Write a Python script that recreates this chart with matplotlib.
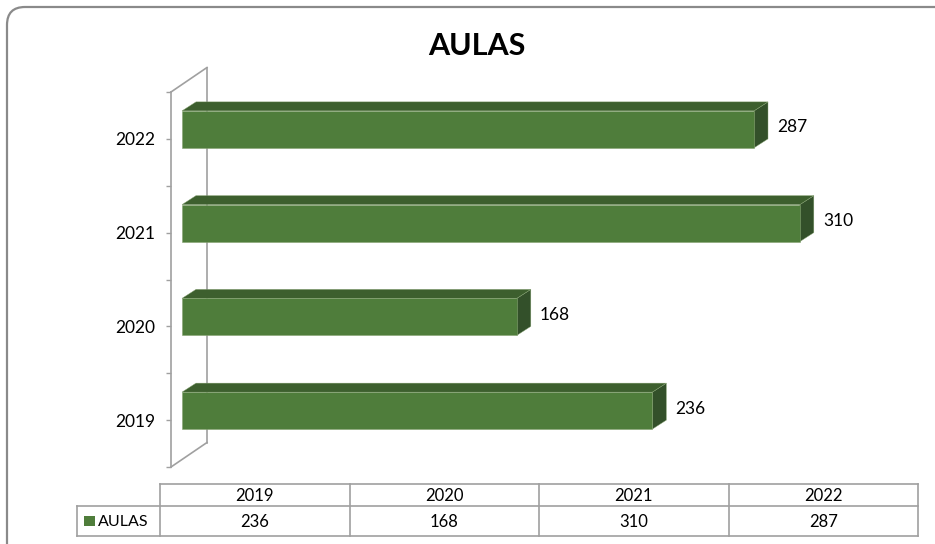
import matplotlib
matplotlib.use("Agg")
import matplotlib.pyplot as plt
from matplotlib.patches import Polygon, FancyBboxPatch, Rectangle
from matplotlib.lines import Line2D

# ---------------- data ----------------
title = "AULAS"
series_name = "AULAS"
categories = ["2019", "2020", "2021", "2022"]
values = [236, 168, 310, 287]

# ---------------- style ----------------
W, H = 935, 544
FONT = ["Lato", "DejaVu Sans"]
plt.rcParams["font.family"] = FONT
FRONT = "#4f7d3b"
TOP = "#3d5f2e"
SIDE = "#33502a"
EDGE = "#86a372"
GRID = "#a0a0a0"
TXT = "#000000"
LBL = 12.5

fig = plt.figure(figsize=(W / 100, H / 100), dpi=100)

# pixel geometry of plot area
px_left, px_right = 171, 900
px_top, px_bottom = 92, 467
px_zero = 182
px_per_unit = 1.993
ax = fig.add_axes([px_left / W, 1 - px_bottom / H,
                   (px_right - px_left) / W, (px_bottom - px_top) / H])
ax.set_xlim((px_left - px_zero) / px_per_unit, (px_right - px_zero) / px_per_unit)
ax.set_ylim(-0.5, len(categories) - 0.5)
px_per_cat = (px_bottom - px_top) / len(categories)

def dx(p):
    return p / px_per_unit

def dy(p):
    return p / px_per_cat

depth_x, depth_y = dx(14), dy(9)
wall_x, wall_y = dx(36), dy(24.5)

for s in ["top", "right", "bottom"]:
    ax.spines[s].set_visible(False)
ax.spines["left"].set_color(GRID)
ax.spines["left"].set_linewidth(1.2)
ax.set_xticks([])
ax.set_yticks(range(len(categories)))
ax.set_yticklabels(categories, fontsize=LBL, color=TXT)
ax.set_yticks([i - 0.5 for i in range(len(categories) + 1)], minor=True)
ax.tick_params(axis="y", which="both", length=3.6, width=1.0, color=GRID, pad=8)
ax.patch.set_alpha(0)

# back wall line and diagonals
x0 = ax.get_xlim()[0]
y0, y1 = ax.get_ylim()
for seg in [([x0 + wall_x, x0 + wall_x], [y0 + wall_y, y1 + wall_y]),
            ([x0, x0 + wall_x], [y1, y1 + wall_y]),
            ([x0, x0 + wall_x], [y0, y0 + wall_y])]:
    ax.add_line(Line2D(seg[0], seg[1], color=GRID, lw=1.2, clip_on=False, zorder=1))

# 3-D bars
for i, v in enumerate(values):
    yb, yt = i - dy(9), i + dy(28)
    side = Polygon([(v, yb), (v + depth_x, yb + depth_y), (v + depth_x, yt + depth_y), (v, yt)],
                   closed=True, facecolor=SIDE, edgecolor=EDGE, lw=0.3, zorder=2, clip_on=False)
    top = Polygon([(0, yt), (depth_x, yt + depth_y), (v + depth_x, yt + depth_y), (v, yt)],
                  closed=True, facecolor=TOP, edgecolor=EDGE, lw=0.3, zorder=2, clip_on=False)
    front = Rectangle((0, yb), v, yt - yb, facecolor=FRONT, edgecolor=EDGE, lw=0.4,
                      zorder=3, clip_on=False)
    ax.add_patch(side)
    ax.add_patch(top)
    ax.add_patch(front)
    ax.text(v + depth_x + dx(9), (yb + yt) / 2 + dy(2), str(v), fontsize=LBL,
            color=TXT, ha="left", va="center", zorder=4)

# overlay in pixel coordinates for frame, title, data table
ov = fig.add_axes([0, 0, 1, 1], zorder=-1)
ov.set_xlim(0, W)
ov.set_ylim(H, 0)
ov.axis("off")
ov.add_patch(FancyBboxPatch((7, 7), 950, 560, boxstyle="round,pad=0,rounding_size=18",
                            facecolor="white", edgecolor="#8a8a8a", lw=1.6))

fig.text(477 / W, 1 - 46 / H, title, fontsize=22, fontweight="bold",
         ha="center", va="center", color="black")

ov2 = fig.add_axes([0, 0, 1, 1], zorder=5)
ov2.set_xlim(0, W)
ov2.set_ylim(H, 0)
ov2.axis("off")
t_top, t_mid, t_bot = 484, 506, 536
t_leg, t_left, t_right = 77, 160, 918
col_w = (t_right - t_left) / len(categories)
lc = dict(color=GRID, lw=1.2)
ov2.plot([t_left, t_right], [t_top, t_top], **lc)
ov2.plot([t_leg, t_right], [t_mid, t_mid], **lc)
ov2.plot([t_leg, t_right], [t_bot, t_bot], **lc)
ov2.plot([t_leg, t_leg], [t_mid, t_bot], **lc)
for k in range(len(categories) + 1):
    xx = t_left + k * col_w
    ov2.plot([xx, xx], [t_top, t_bot], **lc)
for k, (c, v) in enumerate(zip(categories, values)):
    cx = t_left + (k + 0.5) * col_w
    ov2.text(cx, (t_top + t_mid) / 2 + 1, c, fontsize=12, ha="center", va="center", color=TXT)
    ov2.text(cx, (t_mid + t_bot) / 2 + 1, str(v), fontsize=12, ha="center", va="center", color=TXT)
ov2.add_patch(Rectangle((84, 516), 11, 10, facecolor=FRONT, edgecolor="none"))
ov2.text(98, (t_mid + t_bot) / 2 + 1, series_name, fontsize=11.5, ha="left", va="center", color=TXT)

fig.savefig("out.png", dpi=100)
